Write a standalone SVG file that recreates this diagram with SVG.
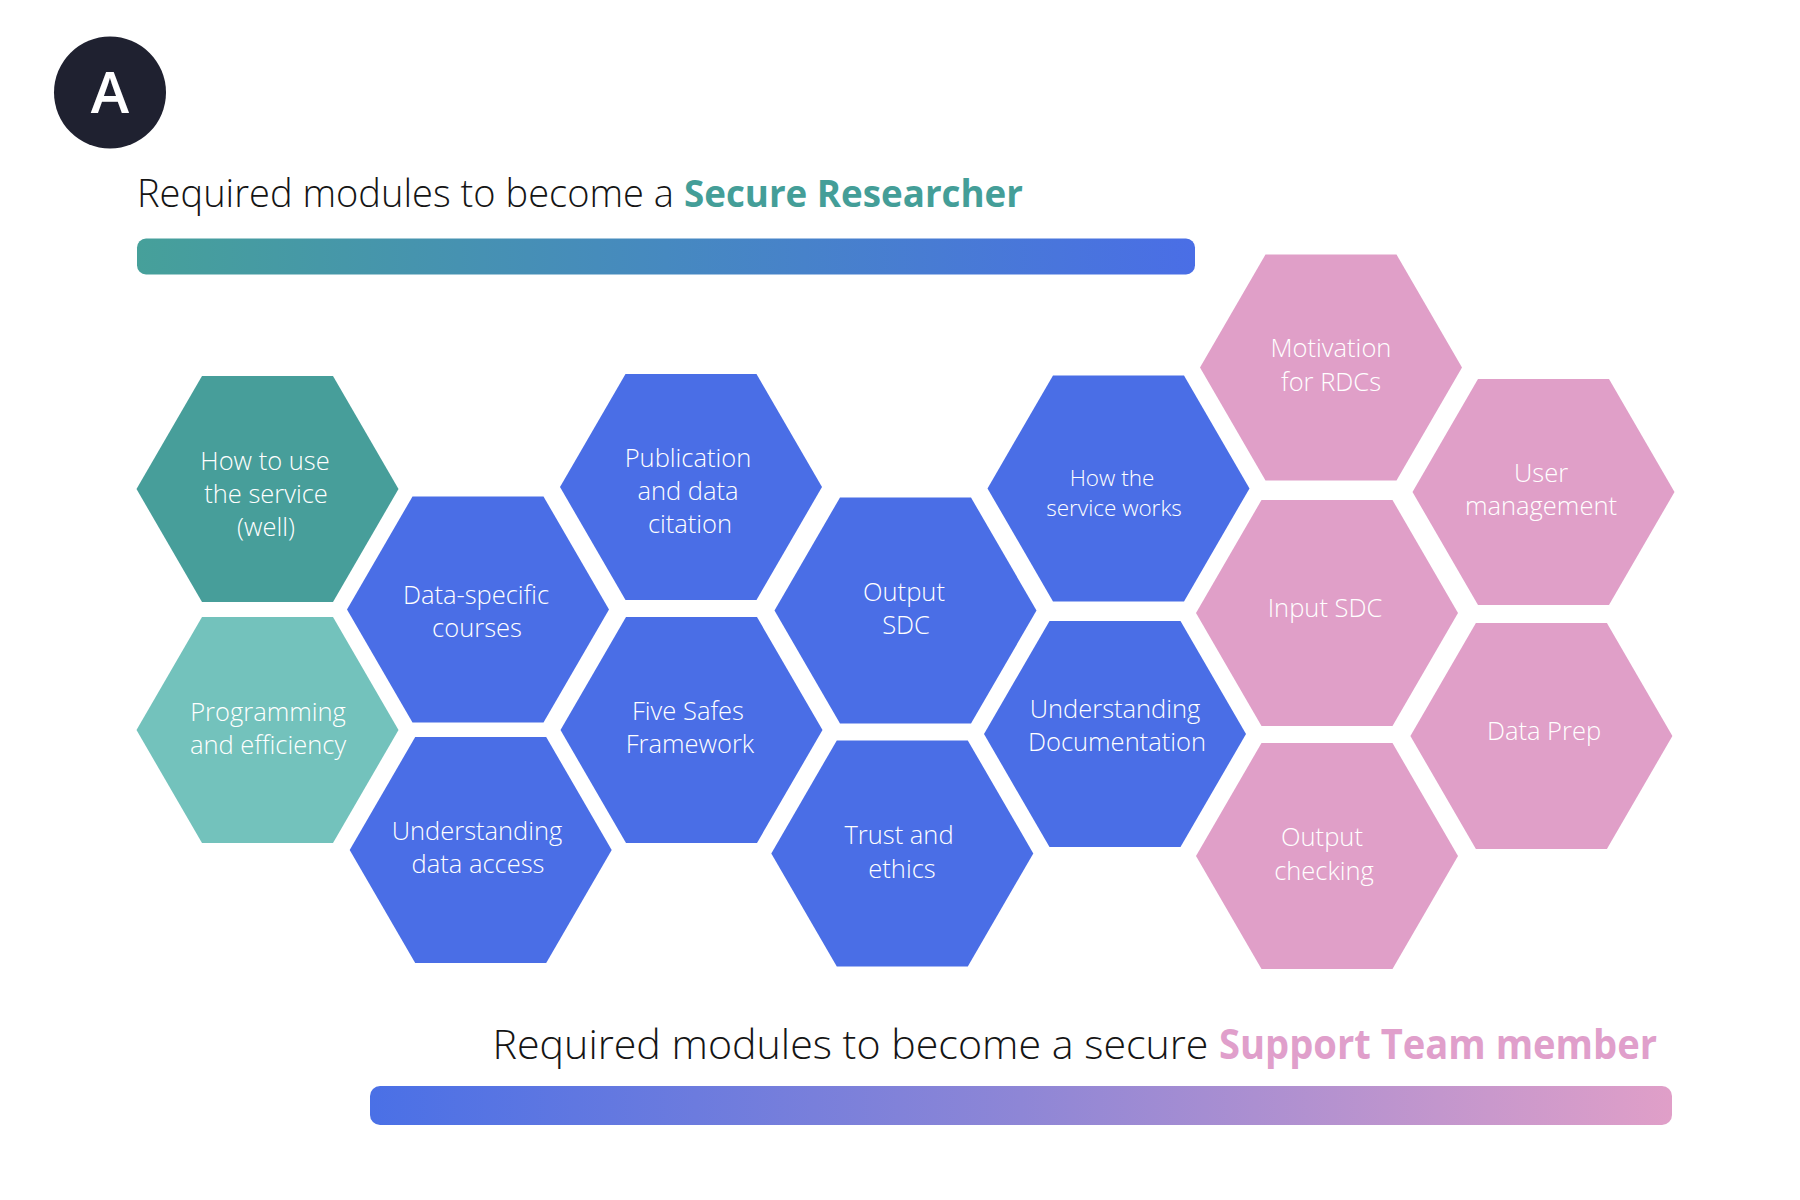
<svg xmlns="http://www.w3.org/2000/svg" xmlns:xlink="http://www.w3.org/1999/xlink" width="1800" height="1200" viewBox="0 0 1800 1200">
<style>
.t{font-family:"Open Sans","Noto Sans","Liberation Sans",sans-serif;}
.lbl{font-family:"Open Sans","Noto Sans","Liberation Sans",sans-serif;font-size:25.5px;font-weight:300;fill:#ffffff;text-anchor:middle;}
.sm{font-size:22.5px;}
.teal{fill:#479E9A;}
.lteal{fill:#73C2BC;}
.blue{fill:#4A6EE6;}
.pink{fill:#E09FC8;}
.title{font-size:38px;font-weight:300;fill:#151515;}
.title2{font-size:41px;font-weight:300;fill:#151515;}
</style>
<defs>
<polygon id="hex" points="-131,0 -65.5,-113 65.5,-113 131,0 65.5,113 -65.5,113"/>
<linearGradient id="g1" x1="0" y1="0" x2="1" y2="0">
<stop offset="0" stop-color="#46A09A"/>
<stop offset="0.5" stop-color="#4689C0"/>
<stop offset="1" stop-color="#4A6EE6"/>
</linearGradient>
<linearGradient id="g2" x1="0" y1="0" x2="1" y2="0">
<stop offset="0" stop-color="#4A70E6"/>
<stop offset="0.5" stop-color="#8E86D6"/>
<stop offset="1" stop-color="#E09FC8"/>
</linearGradient>
</defs>
<rect width="1800" height="1200" fill="#ffffff"/>

<g id="badge">
<circle cx="110" cy="92.5" r="56" fill="#1F2130"/>
<text class="t" x="110" y="113" font-size="58" font-weight="600" fill="#ffffff" text-anchor="middle">A</text>
</g>

<g id="title-researcher">
<text class="t title" x="137" y="207" textLength="537" lengthAdjust="spacingAndGlyphs">Required modules to become a</text>
<text class="t" x="684" y="207" font-size="38" font-weight="700" fill="#449E98" textLength="339" lengthAdjust="spacingAndGlyphs">Secure Researcher</text>
<rect x="137" y="238.5" width="1058" height="36" rx="9" fill="url(#g1)"/>
</g>

<g id="title-support">
<text class="t title2" x="492.5" y="1059" textLength="716" lengthAdjust="spacingAndGlyphs">Required modules to become a secure</text>
<text class="t" x="1219" y="1059" font-size="41" font-weight="700" fill="#E09FCB" textLength="438" lengthAdjust="spacingAndGlyphs">Support Team member</text>
<rect x="370" y="1086" width="1302" height="39" rx="10" fill="url(#g2)"/>
</g>

<g id="connectors"></g>

<g id="n1"><use href="#hex" x="267.5" y="489" class="teal"/>
<text class="lbl" x="265" y="470">How to use</text><text class="lbl" x="266" y="503">the service</text><text class="lbl" x="266" y="536">(well)</text></g>

<g id="n2"><use href="#hex" x="267.5" y="730" class="lteal"/>
<text class="lbl" x="268" y="721">Programming</text><text class="lbl" x="268" y="754">and efficiency</text></g>

<g id="n3"><use href="#hex" x="478" y="609.5" class="blue"/>
<text class="lbl" x="476" y="603.5">Data-specific</text><text class="lbl" x="477" y="636.5">courses</text></g>

<g id="n4"><use href="#hex" x="480.7" y="850" class="blue"/>
<text class="lbl" x="477" y="840">Understanding</text><text class="lbl" x="478" y="873">data access</text></g>

<g id="n5"><use href="#hex" x="691" y="487" class="blue"/>
<text class="lbl" x="688" y="466.5">Publication</text><text class="lbl" x="688" y="499.5">and data</text><text class="lbl" x="690" y="533">citation</text></g>

<g id="n6"><use href="#hex" x="691.5" y="730" class="blue"/>
<text class="lbl" x="688" y="720">Five Safes</text><text class="lbl" x="690" y="753">Framework</text></g>

<g id="n7"><use href="#hex" x="905.5" y="610.5" class="blue"/>
<text class="lbl" x="904" y="600.5">Output</text><text class="lbl" x="906" y="634">SDC</text></g>

<g id="n8"><use href="#hex" x="902.3" y="853.4" class="blue"/>
<text class="lbl" x="899" y="843.5">Trust and</text><text class="lbl" x="902" y="877.5">ethics</text></g>

<g id="n9"><use href="#hex" x="1118.5" y="488.4" class="blue"/>
<text class="lbl sm" x="1112" y="486">How the</text><text class="lbl sm" x="1114" y="515.5">service works</text></g>

<g id="n10"><use href="#hex" x="1115" y="734" class="blue"/>
<text class="lbl" x="1115" y="718">Understanding</text><text class="lbl" x="1117" y="751">Documentation</text></g>

<g id="n11"><use href="#hex" x="1331" y="367.5" class="pink"/>
<text class="lbl" x="1331" y="357">Motivation</text><text class="lbl" x="1331" y="390.5">for RDCs</text></g>

<g id="n12"><use href="#hex" x="1327" y="613" class="pink"/>
<text class="lbl" x="1325" y="617">Input SDC</text></g>

<g id="n13"><use href="#hex" x="1327" y="856" class="pink"/>
<text class="lbl" x="1322" y="846">Output</text><text class="lbl" x="1324" y="879.5">checking</text></g>

<g id="n14"><use href="#hex" x="1543.5" y="492" class="pink"/>
<text class="lbl" x="1541" y="481.5">User</text><text class="lbl" x="1541" y="514.5">management</text></g>

<g id="n15"><use href="#hex" x="1541.4" y="736" class="pink"/>
<text class="lbl" x="1544" y="740">Data Prep</text></g>
</svg>
